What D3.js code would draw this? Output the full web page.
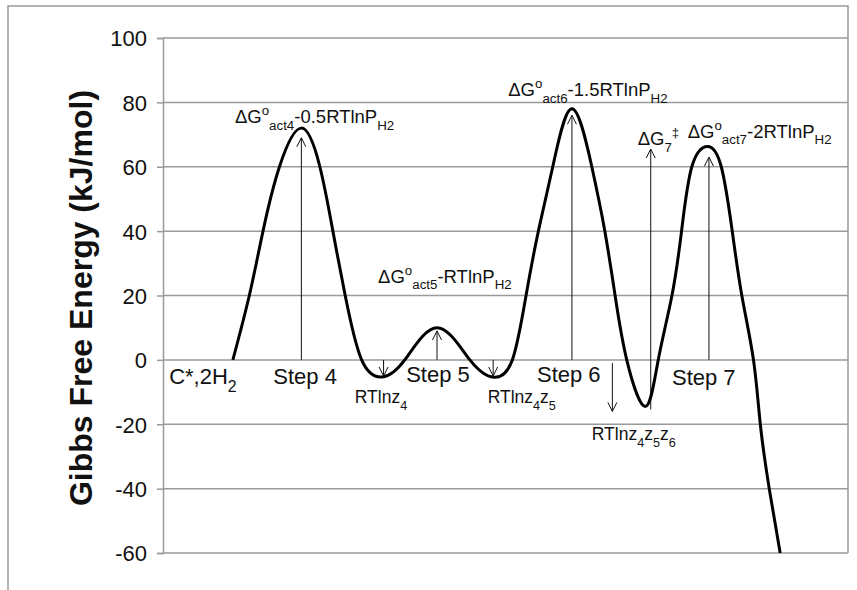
<!DOCTYPE html>
<html>
<head>
<meta charset="utf-8">
<script src="https://cdn.jsdelivr.net/npm/d3@7"></script>
<style>
  body { margin: 0; background: #fff; }
  svg { display: block; font-family: "Liberation Sans", Arial, Helvetica, sans-serif; }
</style>
</head>
<body>
<div id="chart"></div>
<script>
// reaction coordinate (arbitrary units) and free energy along the path
const rxnCoord = [10.2, 12.6, 14.6, 17.0, 20.2, 22.9, 24.8, 26.6, 29.0, 32.0,
                  35.3, 40.0, 44.8, 48.3, 51.0, 53.0, 54.8, 56.9, 59.7, 62.6,
                  64.5, 66.0, 67.7, 70.4, 72.3, 74.3, 75.7, 77.2, 79.5, 81.5,
                  83.1, 84.5, 86.2, 87.2, 88.5, 90.1];
const energy = [0, 20, 40, 60, 72, 60, 40, 20, 0, -5.3,
                0, 10, 0, -5.4, 0, 20, 40, 60, 78, 60,
                40, 20, 0, -14.5, 0, 20, 40, 60, 66.3, 60,
                40, 20, 0, -20, -40, -60];

const yTicks = [100, 80, 60, 40, 20, 0, -20, -40, -60];

// arrows: position, start and end energy
const arrowX    = [20.2, 40.0, 32.2, 48.2, 59.7, 65.6, 71.2, 79.7];
const arrowFrom = [0, 0, 0, 0, 0, -1, -15.4, 0];
const arrowTo   = [69, 9, -5, -5, 76, -16, 65.5, 63];

// annotation labels: segments [text, 'n'|'sub'|'sup'], anchored at data coords
const labels = [
  { x: 10.5, y: 73.6, size: 18.5, parts: [['ΔG','n'],['o','sup'],['act4','sub'],['-0.5RTlnP','n'],['H2','sub']] },
  { x: 50.4, y: 82.0, size: 18.5, parts: [['ΔG','n'],['o','sup'],['act6','sub'],['-1.5RTlnP','n'],['H2','sub']] },
  { x: 69.3, y: 66.8, size: 18.5, parts: [['ΔG','n'],['7','sub'],['‡','sup']] },
  { x: 76.6, y: 69.0, size: 18.5, parts: [['ΔG','n'],['o','sup'],['act7','sub'],['-2RTlnP','n'],['H2','sub']] },
  { x: 31.4, y: 24.0, size: 18.5, parts: [['ΔG','n'],['o','sup'],['act5','sub'],['-RTlnP','n'],['H2','sub']] },
  { x: 0.9,  y: -7.6, size: 22, parts: [['C*,2H','n'],['2','sub']] },
  { x: 16.1, y: -7.6, size: 22, parts: [['Step 4','n']] },
  { x: 35.5, y: -7.0, size: 22, parts: [['Step 5','n']] },
  { x: 54.6, y: -7.0, size: 22, parts: [['Step 6','n']] },
  { x: 74.3, y: -7.9, size: 22, parts: [['Step 7','n']] },
  { x: 28.0, y: -13.5, size: 17.5, parts: [['RTlnz','n'],['4','sub']] },
  { x: 47.4, y: -13.5, size: 17.5, parts: [['RTlnz','n'],['4','sub'],['z','n'],['5','sub']] },
  { x: 62.6, y: -25.0, size: 17.5, parts: [['RTlnz','n'],['4','sub'],['z','n'],['5','sub'],['z','n'],['6','sub']] }
];

const width = 857;
const height = 590;
const margin = { top: 38, right: 9, bottom: 37, left: 163 };

const svg = d3.select('#chart')
  .append('svg')
  .attr('width', width)
  .attr('height', height);

const x = d3.scaleLinear()
  .domain([0, 100])
  .range([margin.left, width - margin.right]);

const y = d3.scaleLinear()
  .domain([-60, 100])
  .range([height - margin.bottom, margin.top]);

// outer frame (cropped chart area)
const frame = svg.append('g').attr('stroke', '#9a9a9a').attr('stroke-width', 1.5).attr('fill', 'none');
frame.append('path').attr('d', `M8,${height} V6 H${x(100)} V${y(-60)}`);

// gridlines + y axis
const yAxis = g => {
  g.attr('transform', `translate(${margin.left},0)`)
    .call(d3.axisLeft(y).tickValues(yTicks).tickSize(6).tickPadding(10)
      .tickFormat(d => String(d)))
    .attr('font-size', '22px')
    .attr('font-family', null);
  g.select('.domain').attr('stroke', '#9a9a9a').attr('stroke-width', 1.5);
  g.selectAll('.tick line').attr('stroke', '#9a9a9a').attr('stroke-width', 1.5);
  g.selectAll('.tick text').attr('fill', '#111').attr('dy', '0.36em');
};

svg.append('g')
  .attr('stroke', '#9a9a9a')
  .attr('stroke-width', 1.5)
  .selectAll('line')
  .data(yTicks)
  .join('line')
  .attr('x1', x(0))
  .attr('x2', x(100))
  .attr('y1', d => y(d))
  .attr('y2', d => y(d));

svg.append('g').call(yAxis);

// axis title
svg.append('text')
  .attr('transform', `translate(92,298) rotate(-90)`)
  .attr('text-anchor', 'middle')
  .attr('font-size', '32px')
  .attr('font-weight', 'bold')
  .attr('fill', '#111')
  .text('Gibbs Free Energy (kJ/mol)');

// thin arrows
const arrows = svg.append('g').attr('stroke', '#111').attr('stroke-width', 1).attr('fill', 'none');
arrowX.forEach((ax, i) => {
  const px = x(ax);
  const y0 = y(arrowFrom[i]);
  const y1 = y(arrowTo[i]);
  const dir = y1 < y0 ? 1 : -1;
  arrows.append('path')
    .attr('d', `M${px},${y0} V${y1} M${px - 4.5},${y1 + dir * 9} L${px},${y1} L${px + 4.5},${y1 + dir * 9}`);
});

// energy profile
const line = d3.line()
  .x((d, i) => x(rxnCoord[i]))
  .y(d => y(d))
  .curve(d3.curveNatural);

svg.append('path')
  .datum(energy)
  .attr('fill', 'none')
  .attr('stroke', '#000')
  .attr('stroke-width', 3)
  .attr('d', line);

// annotations
labels.forEach(l => {
  const t = svg.append('text')
    .attr('x', x(l.x))
    .attr('y', y(l.y))
    .attr('font-size', l.size + 'px')
    .attr('fill', '#111');
  let shift = 0;
  l.parts.forEach(([txt, kind]) => {
    let target = 0;
    let fs = l.size;
    if (kind === 'sub') { target = l.size * 0.36; fs = l.size * 0.72; }
    if (kind === 'sup') { target = -l.size * 0.42; fs = l.size * 0.72; }
    t.append('tspan')
      .attr('dy', target - shift)
      .attr('font-size', fs + 'px')
      .text(txt);
    shift = target;
  });
});
</script>
</body>
</html>
